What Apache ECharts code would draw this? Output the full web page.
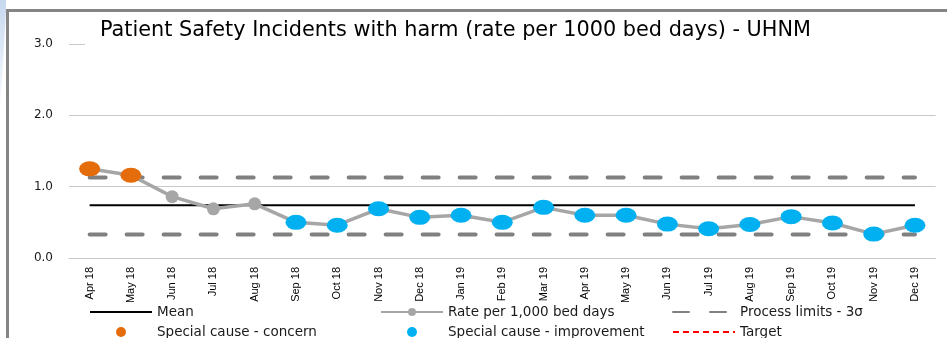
<!DOCTYPE html>
<html>
<head>
<meta charset="utf-8">
<script src="https://cdn.jsdelivr.net/npm/echarts@6/dist/echarts.min.js"></script>
<style>
  html, body { margin: 0; padding: 0; background: #fff; }
  #chart { width: 947px; height: 338px; }
</style>
</head>
<body>
<div id="chart"></div>
<script>
// Monthly categories, April 2018 to December 2019
const months = ['Apr 18','May 18','Jun 18','Jul 18','Aug 18','Sep 18','Oct 18','Nov 18','Dec 18',
                'Jan 19','Feb 19','Mar 19','Apr 19','May 19','Jun 19','Jul 19','Aug 19','Sep 19',
                'Oct 19','Nov 19','Dec 19'];

// Incidents with harm per 1,000 bed days
const rate = [1.25, 1.16, 0.86, 0.69, 0.76, 0.50, 0.46, 0.69, 0.57, 0.60, 0.50,
              0.71, 0.60, 0.60, 0.475, 0.41, 0.47, 0.58, 0.49, 0.335, 0.46];

// SPC signal per month: 'C' = special cause concern, 'I' = special cause improvement
const signal = ['C','C','','','','I','I','I','I','I','I','I','I','I','I','I','I','I','I','I','I'];

// Centre line and 3-sigma process limits
const MEAN = 0.74;
const UPPER = 1.13;
const LOWER = 0.33;

// Target (none set for this period)
const target = [];

// Y-axis ticks
const yTicks = [0, 1, 2, 3];

const flat = v => months.map(() => v);
const pick = code => rate.map((v, i) => signal[i] === code ? v : null);

const ELLIPSE = 'path://M0 10A10 10 0 1 1 20 10A10 10 0 1 1 0 10Z';
const FONT = 'DejaVu Sans';

const chart = echarts.init(document.getElementById('chart'), null, { renderer: 'canvas' });

const legendText = { fontFamily: FONT, fontSize: 13.5, color: '#1a1a1a', padding: [0, 0, 0, 0] };
const legendBase = {
  orient: 'vertical', top: 305, height: 60, padding: 0,
  itemWidth: 62, itemHeight: 10, itemGap: 6,
  selectedMode: false, textStyle: legendText
};
// line-only legend entries: hide the marker drawn in the middle of the icon
const lineOnly = name => ({ name, itemStyle: { opacity: 0 } });

chart.setOption({
  backgroundColor: '#fff',
  animation: false,
  title: {
    text: 'Patient Safety Incidents with harm (rate per 1000 bed days) - UHNM',
    left: 85, top: 14,
    padding: [6, 400, 6, 15],
    backgroundColor: '#fff',
    textStyle: { fontFamily: FONT, fontSize: 20.8, fontWeight: 'normal', color: '#000' }
  },
  legend: [
    Object.assign({}, legendBase, { left: 89, data: [lineOnly('Mean'), { name: 'Special cause - concern', icon: 'circle' }] }),
    Object.assign({}, legendBase, { left: 380, data: ['Rate per 1,000 bed days', { name: 'Special cause - improvement', icon: 'circle' }] }),
    Object.assign({}, legendBase, { left: 672, data: [lineOnly('Process limits - 3σ'), lineOnly('Target')] })
  ],
  grid: { left: 69, right: 11.4, top: 44, bottom: 80, containLabel: false },
  xAxis: {
    type: 'category',
    data: months,
    boundaryGap: true,
    axisLine: { lineStyle: { color: '#c8c8c8', width: 1 } },
    axisTick: { show: false },
    axisLabel: { rotate: 90, margin: 9, interval: 0, fontFamily: 'Liberation Sans', fontSize: 11, color: '#000' }
  },
  yAxis: {
    type: 'value',
    min: yTicks[0], max: yTicks[yTicks.length - 1], interval: 1,
    axisLine: { show: false },
    axisTick: { show: false },
    splitLine: { lineStyle: { color: '#c8c8c8', width: 1 } },
    axisLabel: { margin: 16, fontFamily: FONT, fontSize: 12, color: '#1a1a1a', formatter: v => v.toFixed(1) }
  },
  series: [
    {
      name: 'Mean', type: 'line', data: flat(MEAN), symbol: 'none', z: 2,
      lineStyle: { color: '#000', width: 2 }, itemStyle: { color: '#000' }
    },
    {
      name: 'Process limits - 3σ', type: 'line', data: flat(UPPER), symbol: 'none', z: 2,
      lineStyle: { color: '#808080', width: 4, type: [16, 21], cap: 'round' }, itemStyle: { color: '#808080' }
    },
    {
      name: 'Process limits - 3σ', type: 'line', data: flat(LOWER), symbol: 'none', z: 2,
      lineStyle: { color: '#808080', width: 4, type: [16, 21], cap: 'round' }, itemStyle: { color: '#808080' }
    },
    {
      name: 'Target', type: 'line', data: target, symbol: 'none', z: 2,
      lineStyle: { color: '#ff0000', width: 2, type: [6, 4] }, itemStyle: { color: '#ff0000' }
    },
    {
      name: 'Rate per 1,000 bed days', type: 'line', data: rate, z: 3,
      symbol: 'circle', symbolSize: 13, showSymbol: true,
      lineStyle: { color: '#a6a6a6', width: 3.5 }, itemStyle: { color: '#a6a6a6' }
    },
    {
      name: 'Special cause - concern', type: 'scatter', data: pick('C'), z: 4,
      symbol: ELLIPSE, symbolSize: [21, 15], itemStyle: { color: '#e46c0a', opacity: 1 }
    },
    {
      name: 'Special cause - improvement', type: 'scatter', data: pick('I'), z: 4,
      symbol: ELLIPSE, symbolSize: [21, 15], itemStyle: { color: '#00b0f0', opacity: 1 }
    }
  ],
  graphic: [
    // slide edge shading
    {
      type: 'polygon', z: 100, silent: true,
      shape: { points: [[0, 0], [6, 0], [6, 12], [0, 115]] },
      style: {
        fill: new echarts.graphic.LinearGradient(0, 0, 0, 1, [
          { offset: 0, color: '#c6d8ef' }, { offset: 1, color: '#ffffff' }
        ])
      }
    },
    // chart frame
    { type: 'rect', z: 100, silent: true, shape: { x: 6, y: 9, width: 941, height: 3 }, style: { fill: '#858585' } },
    { type: 'rect', z: 100, silent: true, shape: { x: 6, y: 9, width: 3, height: 329 }, style: { fill: '#858585' } }
  ]
});
</script>
</body>
</html>
